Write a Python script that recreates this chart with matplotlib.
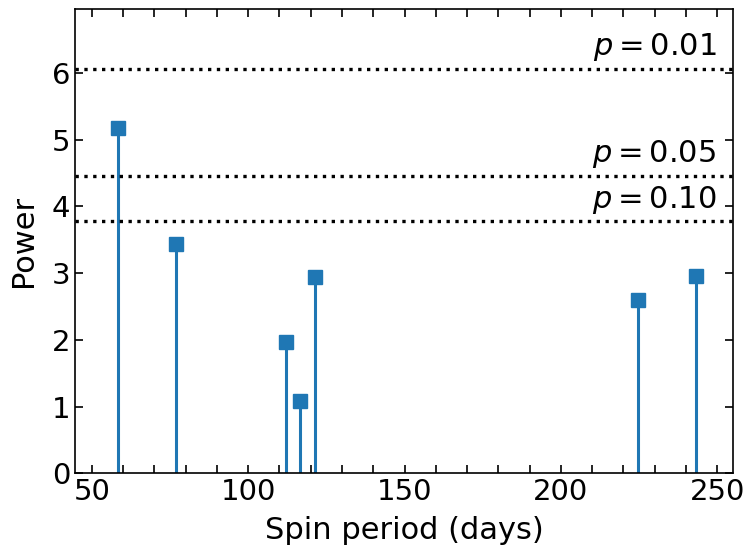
import numpy as np
import matplotlib
matplotlib.use("Agg")
import matplotlib.pyplot as plt

# periodogram peaks
periods = [58.3, 76.9, 112.2, 116.7, 121.5, 224.8, 243.2]
powers = [5.18, 3.44, 1.97, 1.08, 2.94, 2.60, 2.95]

# false-alarm levels
fap_labels = ["$p = 0.01$", "$p = 0.05$", "$p = 0.10$"]
fap_levels = [6.06, 4.46, 3.78]

plt.rcParams['font.size'] = 21

fig = plt.figure(figsize=(7.48, 5.48), dpi=100)
ax = fig.add_axes([0.1003, 0.136, 0.8797, 0.847])

markerline, stemlines, baseline = ax.stem(periods, powers, basefmt=" ")
plt.setp(stemlines, linewidth=2.2, color='#1f77b4')
plt.setp(markerline, marker='s', markersize=10, color='#1f77b4')

for lab, lev in zip(fap_labels, fap_levels):
    ax.axhline(lev, color='k', linestyle=':', linewidth=2.4)
    ax.text(0.975, lev + 0.08, lab, transform=ax.get_yaxis_transform(),
            ha='right', va='bottom', fontsize=22)

ax.set_xlim(44.6, 255.1)
ax.set_ylim(0, 6.95)
ax.set_xticks([50, 100, 150, 200, 250])
ax.set_xticks(np.arange(50, 251, 10), minor=True)
ax.set_yticks(range(0, 7))
ax.tick_params(which='both', direction='in', top=True, right=True,
               length=6, width=1.2)
for s in ax.spines.values():
    s.set_linewidth(1.2)

ax.set_xlabel("Spin period (days)", fontsize=22, labelpad=7)
ax.set_ylabel("Power", fontsize=22, labelpad=10)

fig.savefig("out.png", dpi=100)
